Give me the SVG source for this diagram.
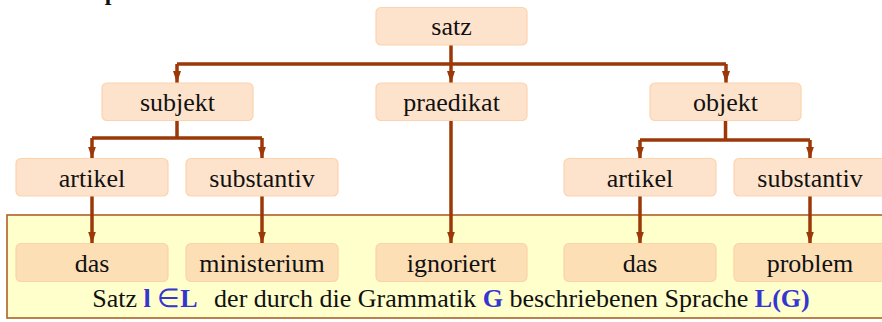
<svg xmlns="http://www.w3.org/2000/svg" width="882" height="322" viewBox="0 0 882 322">
  <defs>
    <marker id="arrow" viewBox="0 0 12 8" refX="12" refY="4" markerWidth="12" markerHeight="8" markerUnits="userSpaceOnUse" orient="auto">
      <path d="M0,0 L12,4 L0,8 Z" fill="#9c3808"/>
    </marker>
  </defs>
  <style>
    .node rect { fill: #fee3cc; stroke: #fcd3ac; stroke-width: 1.2; }
    .leaf rect { fill: #fddfb6; stroke: #fbd3a6; stroke-width: 1.2; }
    text { font-family: "Liberation Serif", "Times New Roman", serif; font-size: 26px; fill: #111; }
    .node text, .leaf text { text-anchor: middle; }
    .edge { fill: none; stroke: #9c3808; stroke-width: 3.5; }
    .blue { fill: #3535d0; font-weight: bold; }
  </style>

  <!-- heading, mostly above the visible area -->
  <text x="20" y="0" style="font-weight:bold;font-size:24px">Ein Beispiel</text>

  <!-- panel holding the terminal words -->
  <rect x="7" y="215" width="890" height="103" fill="#ffffcc" stroke="#b0602a" stroke-width="1.6"/>

  <g id="connectors">
    <path class="edge" d="M451,45 V64 M177,64 H726"/>
    <path class="edge" d="M177,64 V83" marker-end="url(#arrow)"/>
    <path class="edge" d="M451,64 V83" marker-end="url(#arrow)"/>
    <path class="edge" d="M726,64 V83" marker-end="url(#arrow)"/>
    <path class="edge" d="M177,120 V138 M92,138 H262"/>
    <path class="edge" d="M92,138 V158.5" marker-end="url(#arrow)"/>
    <path class="edge" d="M262,138 V158.5" marker-end="url(#arrow)"/>
    <path class="edge" d="M725.5,121 V140 M640,140 H810"/>
    <path class="edge" d="M640,140 V158.5" marker-end="url(#arrow)"/>
    <path class="edge" d="M810,140 V158.5" marker-end="url(#arrow)"/>
    <path class="edge" d="M92,196 V243.5" marker-end="url(#arrow)"/>
    <path class="edge" d="M262,196 V243.5" marker-end="url(#arrow)"/>
    <path class="edge" d="M451,120 V243.5" marker-end="url(#arrow)"/>
    <path class="edge" d="M640,196 V243.5" marker-end="url(#arrow)"/>
    <path class="edge" d="M810,196 V243.5" marker-end="url(#arrow)"/>
  </g>

  <g id="satz" class="node"><rect x="376" y="7.5" width="151" height="37.5" rx="5"/><text x="451.5" y="35">satz</text></g>
  <g id="subjekt" class="node"><rect x="102" y="83" width="151" height="37.5" rx="5"/><text x="177.5" y="111">subjekt</text></g>
  <g id="praedikat" class="node"><rect x="376" y="83" width="151" height="37.5" rx="5"/><text x="451.5" y="111">praedikat</text></g>
  <g id="objekt" class="node"><rect x="650" y="83" width="151" height="37.5" rx="5"/><text x="725.5" y="111">objekt</text></g>

  <g id="artikel1" class="node"><rect x="16" y="158.5" width="152" height="37.5" rx="5"/><text x="92" y="186.5">artikel</text></g>
  <g id="substantiv1" class="node"><rect x="186" y="158.5" width="152" height="37.5" rx="5"/><text x="262" y="186.5">substantiv</text></g>
  <g id="artikel2" class="node"><rect x="564" y="158.5" width="152" height="37.5" rx="5"/><text x="640" y="186.5">artikel</text></g>
  <g id="substantiv2" class="node"><rect x="734" y="158.5" width="152" height="37.5" rx="5"/><text x="810" y="186.5">substantiv</text></g>

  <g id="das1" class="leaf"><rect x="16" y="243.5" width="152" height="38" rx="5"/><text x="92" y="271.5">das</text></g>
  <g id="ministerium" class="leaf"><rect x="186" y="243.5" width="152" height="38" rx="5"/><text x="262" y="271.5">ministerium</text></g>
  <g id="ignoriert" class="leaf"><rect x="376" y="243.5" width="151" height="38" rx="5"/><text x="451.5" y="271.5">ignoriert</text></g>
  <g id="das2" class="leaf"><rect x="564" y="243.5" width="152" height="38" rx="5"/><text x="640" y="271.5">das</text></g>
  <g id="problem" class="leaf"><rect x="734" y="243.5" width="152" height="38" rx="5"/><text x="810" y="271.5">problem</text></g>

  <text x="451" y="307" text-anchor="middle">Satz <tspan class="blue">l</tspan> <tspan class="blue" style="font-weight:normal">∈</tspan><tspan class="blue">L</tspan><tspan dx="10"> der durch die Grammatik </tspan><tspan class="blue">G</tspan> beschriebenen Sprache <tspan class="blue">L(G)</tspan></text>
</svg>
